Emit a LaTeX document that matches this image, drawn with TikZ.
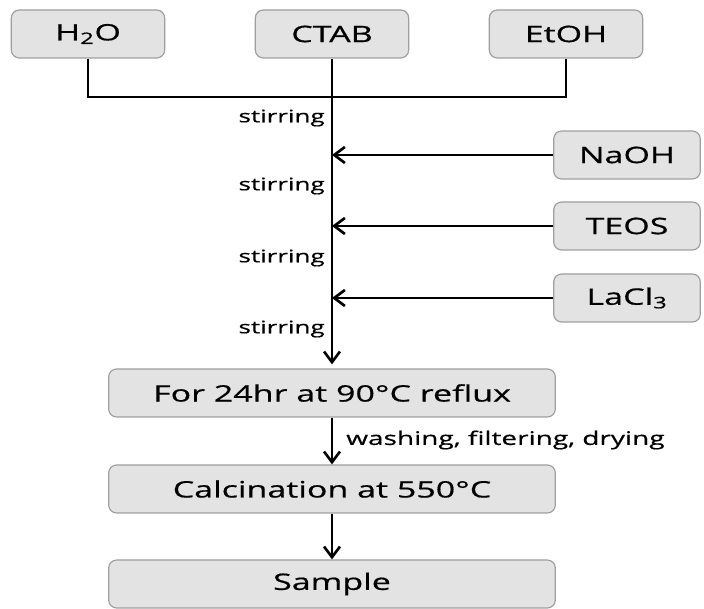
\documentclass[tikz,border=0pt]{standalone}
\usepackage{fontspec}
\usetikzlibrary{arrows.meta,calc}
\newfontfamily\flowfont[FakeStretch=1.5,FakeBold=0.6]{Open Sans}

\begin{document}
\begin{tikzpicture}[x=0.75pt,y=-0.75pt,
	box/.style={draw=gray!75,line width=0.9pt,fill=gray!22,rounded corners=6pt,
		minimum height=36pt,inner sep=0pt,font=\flowfont\fontsize{17}{20}\selectfont},
	topbox/.style={box,minimum width=115pt},
	addbox/.style={box,minimum width=110pt},
	stepbox/.style={box,minimum width=335pt},
	lbl/.style={inner sep=0pt,font=\flowfont\fontsize{13}{15}\selectfont},
	wire/.style={line width=2.1pt},
	arr/.style={wire,-{Straight Barb[length=8pt,width=12pt,line width=2pt]}}]
	\useasboundingbox (0,0) rectangle (704,609);
	% starting materials
	\node[topbox] (h2o) at (88,34) {H\textsubscript{2}O};
	\node[topbox] (ctab) at (332,34) {CTAB};
	\node[topbox] (etoh) at (566,34) {EtOH};
	\coordinate (join) at (332,97);
	% added one after another
	\node[addbox] (naoh) at (627,155) {NaOH};
	\node[addbox] (teos) at (627,226) {TEOS};
	\node[addbox] (lacl) at (627,298) {LaCl\textsubscript{3}};
	% steps
	\node[stepbox] (reflux) at (332,393) {For 24hr at 90°C reflux};
	\node[stepbox] (calc) at (332,489) {Calcination at 550°C};
	\node[stepbox] (sample) at (332,584) {Sample};
	\draw[wire] (h2o.south) |- (join);
	\draw[wire] (etoh.south) |- (join);
	\draw[arr,shorten >=3pt] (ctab.south) -- (reflux.north);
	\foreach \s in {naoh,teos,lacl}
		\draw[arr] (\s.west) -- (\s.west -| join);
	\node[lbl,anchor=east] (st1) at (325,118) {stirring};
	\node[lbl,anchor=east] (st2) at (325,186) {stirring};
	\node[lbl,anchor=east] (st3) at (325,258) {stirring};
	\node[lbl,anchor=east] (st4) at (325,329) {stirring};
	\draw[arr] (reflux.south) -- (calc.north);
	\node[lbl,anchor=west,font=\flowfont\fontsize{14}{16}\selectfont] (wash) at (346,440) {washing, filtering, drying};
	\draw[arr] (calc.south) -- (sample.north);
\end{tikzpicture}
\end{document}
